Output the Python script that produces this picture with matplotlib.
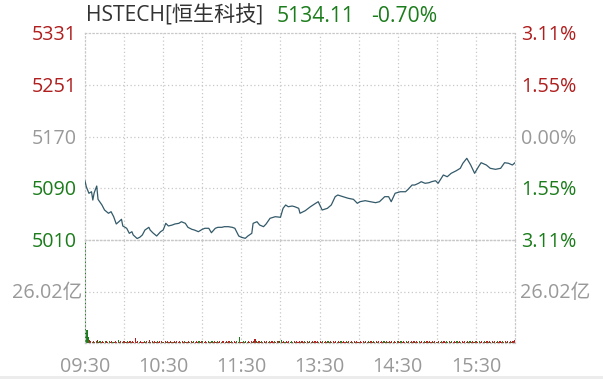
import matplotlib
matplotlib.use("Agg")
import matplotlib.pyplot as plt
from matplotlib.patches import Rectangle
import numpy as np

plt.rcParams['font.family'] = ['Open Sans', 'Noto Sans CJK SC', 'DejaVu Sans']

# ---------------- data ----------------
# trading minutes since 09:30 (lunch break removed, 150 = 12:00/13:00, 330 = 16:00)
t_idx = [0, 1, 3, 5, 6, 7, 9, 10, 13, 15, 18, 20, 22, 24, 26, 28, 29, 32, 34, 36,
         37, 40, 42, 44, 46, 49, 50, 52, 55, 58, 60, 62, 64, 67, 69, 72, 74, 77, 79, 82,
         84, 87, 90, 92, 95, 97, 100, 102, 105, 107, 110, 113, 115, 118, 120, 123, 125, 128, 129, 132,
         134, 137, 139, 142, 146, 150, 152, 154, 156, 159, 161, 164, 165, 169, 173, 177, 179, 182, 186, 189,
         192, 194, 198, 202, 206, 209, 211, 215, 219, 223, 226, 230, 233, 235, 238, 242, 246, 248, 251, 253,
         256, 258, 261, 264, 266, 269, 271, 275, 278, 281, 285, 288, 290, 293, 296, 299, 302, 304, 308, 311,
         315, 319, 322, 325, 328, 330]
prices = [5101.2, 5092.3, 5082.1, 5084.5, 5071.6, 5082.5, 5093.4, 5072.7, 5063.9, 5056.1,
          5051.0, 5053.5, 5045.7, 5034.4, 5037.9, 5041.7, 5031.3, 5027.7, 5019.9, 5022.4,
          5017.3, 5011.8, 5013.7, 5017.3, 5025.0, 5029.2, 5025.0, 5020.8, 5015.7, 5022.4,
          5025.0, 5035.4, 5031.3, 5032.8, 5034.4, 5035.4, 5037.9, 5035.4, 5029.2, 5026.1,
          5025.0, 5022.4, 5026.1, 5027.7, 5027.7, 5020.8, 5027.7, 5029.2, 5029.2, 5030.2,
          5030.2, 5029.2, 5027.7, 5015.7, 5013.7, 5012.1, 5015.7, 5019.9, 5035.4, 5037.9,
          5032.8, 5030.2, 5034.4, 5043.2, 5045.7, 5044.8, 5058.7, 5063.9, 5061.2, 5062.3,
          5061.2, 5058.7, 5051.0, 5055.0, 5061.2, 5066.5, 5069.0, 5056.1, 5058.7, 5063.9,
          5076.8, 5079.4, 5076.8, 5074.3, 5072.7, 5066.5, 5069.0, 5070.6, 5069.0, 5067.5,
          5069.0, 5076.8, 5076.8, 5069.0, 5082.1, 5084.5, 5084.5, 5088.3, 5094.9, 5094.9,
          5097.6, 5100.1, 5097.6, 5098.5, 5100.1, 5101.6, 5097.6, 5110.5, 5107.8, 5113.1,
          5117.2, 5120.9, 5128.7, 5136.4, 5126.0, 5113.1, 5123.4, 5129.6, 5126.0, 5120.9,
          5119.3, 5120.9, 5129.6, 5128.7, 5126.0, 5129.6]

prev_close = 5170.3
last_price = "5134.11"
last_change = "-0.70%"
title_name = "HSTECH[恒生科技]"

price_ticks = [5331, 5251, 5170, 5090, 5010]
price_tick_labels = ["5331", "5251", "5170", "5090", "5010"]
pct_tick_labels = ["3.11%", "1.55%", "0.00%", "1.55%", "3.11%"]
vol_mid_label = "26.02亿"
vol_max = 52.04  # 亿

time_labels = ["09:30", "10:30", "11:30", "13:30", "14:30", "15:30"]
time_label_idx = [0, 60, 120, 180, 240, 300]

# per-minute volume (units of 0.5亿), one string per half hour
vol_rows = [
    "999321212312121221212112131212",
    "212121215121211212131212121221",
    "121212112121212121121212121212",
    "212121121212121221212121212161",
    "121212121242121212121212121222",
    "312121212121212121212121212121",
    "212121212121212121212121212121",
    "121212121212121212121212121212",
    "212121212121212121212121212121",
    "121212121212121212121212121212",
    "212121212121212121212121212123",
]
vol_open = [58.0, 6.6, 3.2]  # 亿, first three minutes
col_rows = [
    "gggrrgrrgrrgrrrgrrgrrgrrrgrrgr",
    "rrgrrgrrrrrgrrrgrrgrrrgrrgrrrg",
    "rrgrrrgrrgrrrgrrgrrrgrrgrrrgrr",
    "grrrgrrgrrrgrrgrrrrgrrgrrrgrgr",
    "rgrggrrrgrrgrrrgrrgrrgrrrgrrgr",
    "grrgrrrggrrgrrrgrrgrrrgrrgrrrg",
    "rrgrrrgrrgrrrgrrgrrrgrrgrrrgrr",
    "grrrgrrgrrrgrrgrrrrgrrgrrrgrrg",
    "rrgrrrgrrgrrrgrrgrrrgrrgrrrgrr",
    "grrgrrrggrrgrrrgrrgrrrgrrgrrrg",
    "rrgrrrgrrgrrrgrrgrrrgrrgrrrgrr",
]

# ---------------- style ----------------
RED = "#b01e1e"
GREEN = "#1b7c1b"
GRAY = "#999999"
TITLE = "#333333"
GRID = "#c8c8c8"
LINE = "#335a6a"

W, H = 603, 379
fig = plt.figure(figsize=(W / 100, H / 100), dpi=100)

def fx(px):
    return px / W

def fy(py):
    return 1 - py / H

L, R = 85, 515
T_P, B_P, B_V = 33, 240, 343
ax = fig.add_axes([fx(L), fy(B_P), fx(R) - fx(L), fy(T_P) - fy(B_P)])
axv = fig.add_axes([fx(L), fy(B_V), fx(R) - fx(L), fy(B_P) - fy(B_V)])

ylo = prev_close * (1 - 0.0311)
yhi = prev_close * (1 + 0.0311)

for a in (ax, axv):
    a.set_xlim(0, 330)
    a.set_xticks([])
    a.set_yticks([])
    for x in range(30, 330, 30):
        a.axvline(x, color=GRID, lw=0.9, ls=(0, (1, 2)), zorder=0)
    for s in a.spines.values():
        s.set_color(GRID)
        s.set_linestyle((0, (1, 2)))
        s.set_linewidth(0.9)
    a.set_facecolor("none")

ax.set_ylim(ylo, yhi)
for v in price_ticks[1:-1]:
    ax.axhline(v, color=GRID, lw=0.9, ls=(0, (1, 2)), zorder=0)
ax.plot(t_idx, prices, color=LINE, lw=0.9, zorder=3)

# volume
vols = []
cols = []
for rs, cs in zip(vol_rows, col_rows):
    for d, c in zip(rs, cs):
        vols.append(int(d) * 0.5)
        cols.append(RED if c == "r" else GREEN)
for i, v in enumerate(vol_open):
    vols[i] = v
axv.set_ylim(0, vol_max)
axv.axhline(vol_max / 2, color=GRID, lw=0.9, ls=(0, (1, 2)), zorder=0)
axv.bar(np.arange(len(vols)) + 0.5, vols, width=0.85, color=cols, linewidth=0, zorder=2)
axv.bar([0.3], [vols[0]], width=0.6, color=GREEN, linewidth=0, zorder=2)

# ---------------- texts ----------------
tick_fs = 14.2
lab_colors = [RED, RED, GRAY, GREEN, GREEN]
for v, lab, pl, c in zip(price_ticks, price_tick_labels, pct_tick_labels, lab_colors):
    py = T_P + (yhi - v) / (yhi - ylo) * (B_P - T_P)
    fig.text(fx(77), fy(py + 7), lab, ha="right", va="baseline", fontsize=tick_fs, color=c)
    fig.text(fx(521), fy(py + 7), pl, ha="left", va="baseline", fontsize=tick_fs, color=c)

vy = (B_P + B_V) / 2
fig.text(fx(82), fy(vy + 7), vol_mid_label, ha="right", va="baseline", fontsize=tick_fs, color=GRAY)
fig.text(fx(520), fy(vy + 7), vol_mid_label, ha="left", va="baseline", fontsize=tick_fs, color=GRAY)

for lab, ti in zip(time_labels, time_label_idx):
    px = L + ti / 330 * (R - L)
    fig.text(fx(px), fy(371.5), lab, ha="center", va="baseline", fontsize=tick_fs, color=GRAY)

fig.text(fx(86), fy(21.7), title_name, ha="left", va="baseline", fontsize=15.2, color=TITLE)
fig.text(fx(277), fy(21.7), last_price, ha="left", va="baseline", fontsize=15.2, color=GREEN)
fig.text(fx(371), fy(21.7), last_change, ha="left", va="baseline", fontsize=15.2, color=GREEN)

fig.patches.append(Rectangle((0, 0), 1, fy(376), transform=fig.transFigure,
                             facecolor="#ececec", edgecolor="none", zorder=-1))

fig.savefig("out.png", dpi=100)
